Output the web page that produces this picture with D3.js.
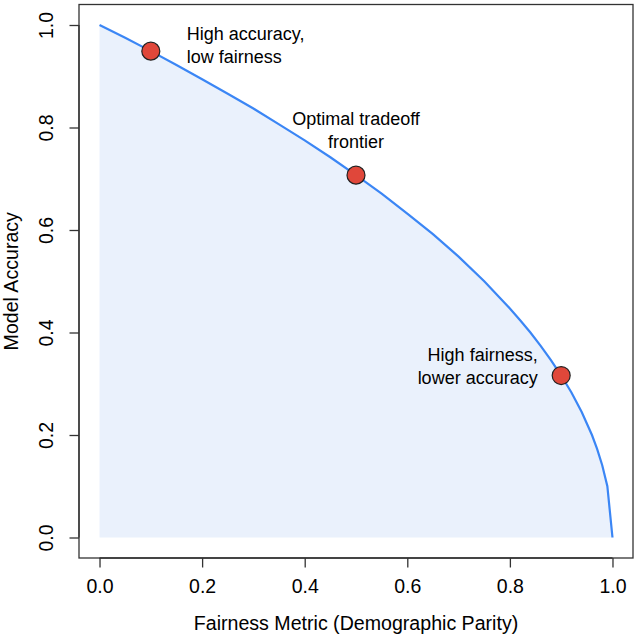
<!DOCTYPE html>
<html><head><meta charset="utf-8">
<script src="https://cdn.jsdelivr.net/npm/d3@7"></script>
<style>body{margin:0;background:#fff}svg{display:block}text{font-family:"Liberation Sans",Arial,Helvetica,sans-serif;fill:#000}</style>
</head><body><svg id="c" width="638" height="639"></svg>
<script>
// Frontier curve
const frontierX = [0,0.05,0.10,0.15,0.20,0.25,0.30,0.35,0.40,0.45,0.50,0.55,0.60,0.65,0.70,0.75,0.80,0.82,0.84,0.86,0.88,0.90,0.92,0.94,0.96,0.97,0.98,0.99,1.00];
const frontierY = [1.000,0.975,0.949,0.922,0.894,0.866,0.837,0.806,0.775,0.742,0.707,0.671,0.632,0.592,0.548,0.500,0.447,0.424,0.400,0.374,0.346,0.316,0.283,0.245,0.200,0.173,0.141,0.100,0.000];
// Highlighted points
const pointX = [0.1, 0.5, 0.9];
const pointY = [0.949, 0.707, 0.316];
const pointLabels = [["High accuracy,","low fairness"],["Optimal tradeoff","frontier"],["High fairness,","lower accuracy"]];
const labelPos = ["right","above","left"];
const tickValues = [0,0.2,0.4,0.6,0.8,1.0];
const xTitle = "Fairness Metric (Demographic Parity)";
const yTitle = "Model Accuracy";

const svg = d3.select("#c");
const L=79, R=633, T=4.5, B=558;
const x = d3.scaleLinear().domain([-0.04,1.04]).range([L,R]);
const y = d3.scaleLinear().domain([-0.04,1.04]).range([B,T]);
const data = frontierX.map((v,i)=>({x:v,y:frontierY[i]}));

svg.append("path").datum(data)
  .attr("d", d3.area().x(d=>x(d.x)).y0(y(0)).y1(d=>y(d.y)))
  .attr("fill","#eaf1fc");
svg.append("path").datum(data)
  .attr("d", d3.line().x(d=>x(d.x)).y(d=>y(d.y)))
  .attr("fill","none").attr("stroke","#3b86f5").attr("stroke-width",2.2);

// box
svg.append("rect").attr("x",L).attr("y",T).attr("width",R-L).attr("height",B-T)
  .attr("fill","none").attr("stroke","#333").attr("stroke-width",1.3);

const fmt = d3.format(".1f");
const xa = svg.append("g").attr("transform",`translate(0,${B})`)
  .call(d3.axisBottom(x).tickValues(tickValues).tickFormat(fmt).tickSize(9.5).tickPadding(12).tickSizeOuter(0));
xa.select(".domain").attr("d",`M${x(0)},0H${x(1)}`).attr("stroke","#333").attr("stroke-width",1.3);
xa.selectAll(".tick line").attr("stroke","#333").attr("stroke-width",1.3);
xa.selectAll(".tick text").attr("font-size",19.5).attr("fill","#000");

const ya = svg.append("g").attr("transform",`translate(${L},0)`)
  .call(d3.axisLeft(y).tickValues(tickValues).tickFormat(fmt).tickSize(9.5).tickPadding(0).tickSizeOuter(0));
ya.select(".domain").attr("d",`M0,${y(0)}V${y(1)}`).attr("stroke","#333").attr("stroke-width",1.3);
ya.selectAll(".tick line").attr("stroke","#333").attr("stroke-width",1.3);
ya.selectAll(".tick text").attr("font-size",19.5).attr("fill","#000")
  .attr("x",null).attr("dy",null)
  .attr("text-anchor","middle")
  .attr("transform","translate(-25.7,0) rotate(-90)");

svg.append("text").attr("x",(x(0)+x(1))/2).attr("y",630).attr("text-anchor","middle")
  .attr("font-size",19.6).text(xTitle);
svg.append("text").attr("transform",`translate(17.5,${(y(0)+y(1))/2}) rotate(-90)`)
  .attr("text-anchor","middle").attr("font-size",19.6).text(yTitle);

// points
svg.selectAll("circle.pt").data(pointX).enter().append("circle")
  .attr("cx",d=>x(d)).attr("cy",(d,i)=>y(pointY[i])).attr("r",9)
  .attr("fill","#e0473a").attr("stroke","#222").attr("stroke-width",1.2);

// labels
pointX.forEach((px,i)=>{
  const cx=x(px), cy=y(pointY[i]);
  const lines=pointLabels[i];
  let tx, ty, anchor;
  if(labelPos[i]==="right"){tx=cx+36; ty=cy-11; anchor="start";}
  else if(labelPos[i]==="above"){tx=cx; ty=cy-50; anchor="middle";}
  else {tx=cx-23.5; ty=cy-15; anchor="end";}
  const t=svg.append("text").attr("font-size",18).attr("text-anchor",anchor);
  lines.forEach((ln,j)=>t.append("tspan").attr("x",tx).attr("y",ty+j*23).text(ln));
});
</script></body></html>
